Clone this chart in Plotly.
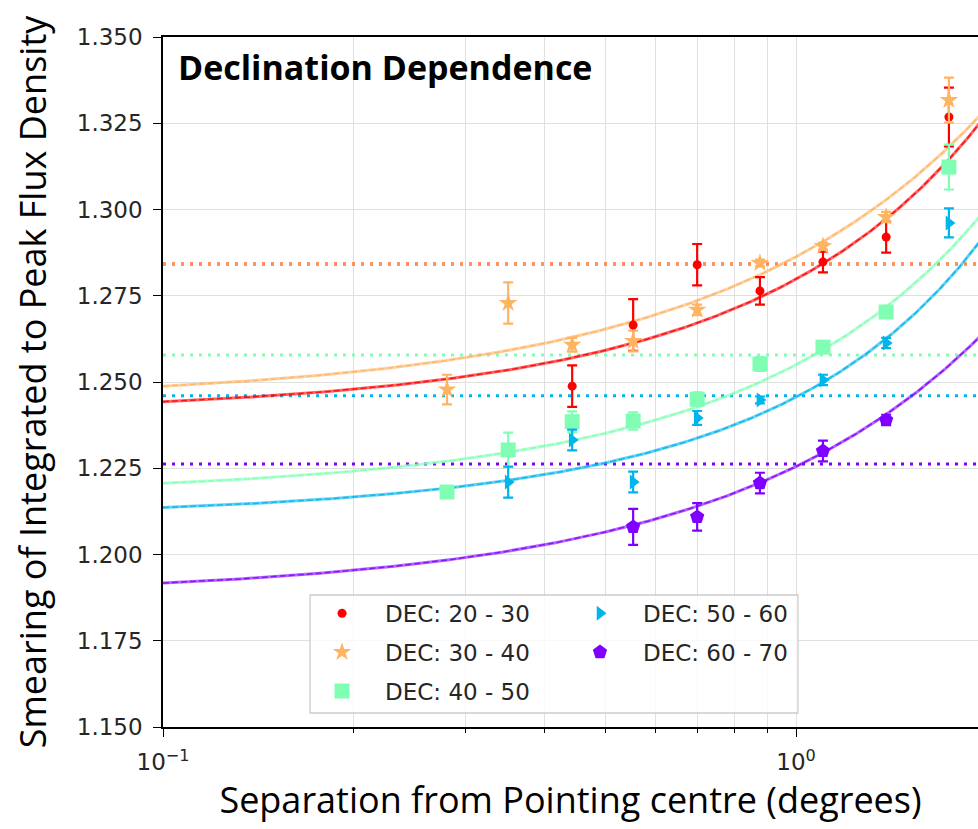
import numpy as np
import plotly.graph_objects as go

# Separation bins (degrees) and measured integrated/peak smearing per declination band
dec_labels = ["DEC: 20 - 30", "DEC: 30 - 40", "DEC: 40 - 50", "DEC: 50 - 60", "DEC: 60 - 70"]
colors = ["#ff0000", "#ffb462", "#80ffb4", "#00b4ec", "#8000ff"]
symbols = ["circle", "star", "square", "triangle-right", "pentagon"]
marker_sizes = [9, 14, 15, 13, 15]

sep_20_30 = [0.443, 0.553, 0.698, 0.877, 1.103, 1.388, 1.744]
smear_20_30 = [1.2488, 1.2665, 1.2840, 1.2764, 1.2848, 1.2920, 1.3268]
err_20_30 = [0.0060, 0.0075, 0.0060, 0.0040, 0.0030, 0.0045, 0.0085]

sep_30_40 = [0.281, 0.351, 0.443, 0.553, 0.698, 0.877, 1.103, 1.388, 1.744]
smear_30_40 = [1.2478, 1.2729, 1.2608, 1.2619, 1.2709, 1.2845, 1.2894, 1.2978, 1.3317]
err_30_40 = [0.0043, 0.0060, 0.0020, 0.0030, 0.0015, 0.0010, 0.0010, 0.0015, 0.0065]

sep_40_50 = [0.281, 0.351, 0.443, 0.553, 0.698, 0.877, 1.103, 1.388, 1.744]
smear_40_50 = [1.2181, 1.2303, 1.2385, 1.2387, 1.2450, 1.2552, 1.2601, 1.2703, 1.3123]
err_40_50 = [0.0010, 0.0050, 0.0030, 0.0025, 0.0020, 0.0020, 0.0010, 0.0010, 0.0065]

sep_50_60 = [0.351, 0.443, 0.553, 0.698, 0.877, 1.103, 1.388, 1.744]
smear_50_60 = [1.2210, 1.2332, 1.2210, 1.2396, 1.2448, 1.2506, 1.2613, 1.2961]
err_50_60 = [0.0045, 0.0030, 0.0030, 0.0020, 0.0010, 0.0015, 0.0015, 0.0042]

sep_60_70 = [0.553, 0.698, 0.877, 1.103, 1.388]
smear_60_70 = [1.2080, 1.2109, 1.2207, 1.2300, 1.2390]
err_60_70 = [0.0052, 0.0040, 0.0030, 0.0030, 0.0015]

# Fitted model S(r) = a + b r + c r^2 for each band
fit_a = [1.2408, 1.2447, 1.2172, 1.2107, 1.1881]
fit_b = [0.0346, 0.0409, 0.0340, 0.0285, 0.0363]
fit_c = [0.0044, 0.0007, 0.0038, 0.0064, 0.0011]

# Mean smearing level per band (horizontal reference lines)
mean_level = [1.2842, 1.2842, 1.2578, 1.2460, 1.2262]

seps = [sep_20_30, sep_30_40, sep_40_50, sep_50_60, sep_60_70]
smears = [smear_20_30, smear_30_40, smear_40_50, smear_50_60, smear_60_70]
errs = [err_20_30, err_30_40, err_40_50, err_50_60, err_60_70]
legend_column = ["legend", "legend", "legend", "legend2", "legend2"]

X_MIN, X_MAX = 0.1, 2.0
r_grid = np.logspace(np.log10(X_MIN), np.log10(X_MAX), 300)

fig = go.Figure()

# mean levels (dotted)
for i in range(5):
    fig.add_trace(go.Scatter(
        x=[X_MIN, X_MAX], y=[mean_level[i]] * 2, mode="lines",
        line=dict(color=colors[i], width=3, dash="3px,6px"),
        opacity=0.8 if i == 1 else 1.0,
        showlegend=False, hoverinfo="skip"))

# fitted curves
for i in range(5):
    model = fit_a[i] + fit_b[i] * r_grid + fit_c[i] * r_grid ** 2
    fig.add_trace(go.Scatter(
        x=r_grid, y=model, mode="lines",
        line=dict(color=colors[i], width=3), opacity=0.6,
        showlegend=False, hoverinfo="skip"))
    fig.add_trace(go.Scatter(
        x=r_grid, y=model, mode="lines",
        line=dict(color=colors[i], width=1.5, dash="6px,3px"), opacity=0.8,
        showlegend=False, hoverinfo="skip"))

# measurements with error bars
for i in range(5):
    fig.add_trace(go.Scatter(
        x=seps[i], y=smears[i], mode="markers", name=dec_labels[i],
        legend=legend_column[i], legendgroup=dec_labels[i],
        marker=dict(color=colors[i], symbol=symbols[i], size=marker_sizes[i],
                    line=dict(width=0)),
        error_y=dict(type="data", array=errs[i], color=colors[i],
                     thickness=2.2, width=5)))

minor_vals = [k * 0.1 for k in range(2, 10)] + [2.0]

legend_style = dict(
    yanchor="top", xanchor="left", y=0.196, bgcolor="rgba(0,0,0,0)",
    borderwidth=0, itemwidth=76, tracegroupgap=6, traceorder="grouped",
    font=dict(family="DejaVu Sans", size=23, color="#262626"),
)

fig.update_layout(
    width=978, height=829,
    margin=dict(l=163, r=0, t=37, b=102),
    paper_bgcolor="white", plot_bgcolor="white",
    font=dict(family="DejaVu Sans", size=23, color="#262626"),
    xaxis=dict(
        type="log", range=[-1, 0.2875],
        tickvals=[0.1, 1.0], ticktext=["10<sup>\u22121</sup>", "10<sup>0</sup>"],
        ticks="outside", ticklen=8, tickwidth=1.3, tickcolor="black",
        showline=True, linecolor="black", linewidth=1.5, mirror=True,
        showgrid=True, gridcolor="#e0e0e0", gridwidth=1.2,
        minor=dict(tickvals=minor_vals, ticks="outside", ticklen=4,
                   tickcolor="black", showgrid=True, gridcolor="#e0e0e0", gridwidth=1.2),
        zeroline=False, ticklabelstandoff=6,
        title=dict(text="Separation from Pointing centre (degrees)",
                   font=dict(family="Open Sans", size=36, color="black"), standoff=12),
    ),
    yaxis=dict(
        range=[1.150, 1.350], dtick=0.025, tick0=1.150, tickformat=".3f",
        ticks="outside", ticklen=8, tickwidth=1.3, tickcolor="black",
        showline=True, linecolor="black", linewidth=1.5, mirror=False,
        showgrid=True, gridcolor="#e0e0e0", gridwidth=1.2,
        zeroline=False, ticklabelstandoff=6,
        title=dict(text="Smearing of Integrated to Peak Flux Density",
                   font=dict(family="Open Sans", size=36, color="black"), standoff=19),
    ),
    legend=dict(x=0.1669, **legend_style),
    legend2=dict(x=0.4834, **legend_style),
    shapes=[dict(
        type="rect", xref="paper", yref="paper",
        x0=0.1804, x1=0.7791, y0=0.0203, y1=0.1913, layer="above",
        fillcolor="rgba(255,255,255,0.8)", line=dict(color="#cccccc", width=1.3))],
    annotations=[dict(
        text="<b>Declination Dependence</b>", xref="paper", yref="paper",
        x=0.016, y=0.993, xanchor="left", yanchor="top", showarrow=False,
        font=dict(family="Open Sans", size=34, color="black"))],
)

fig.write_html("out.html")
